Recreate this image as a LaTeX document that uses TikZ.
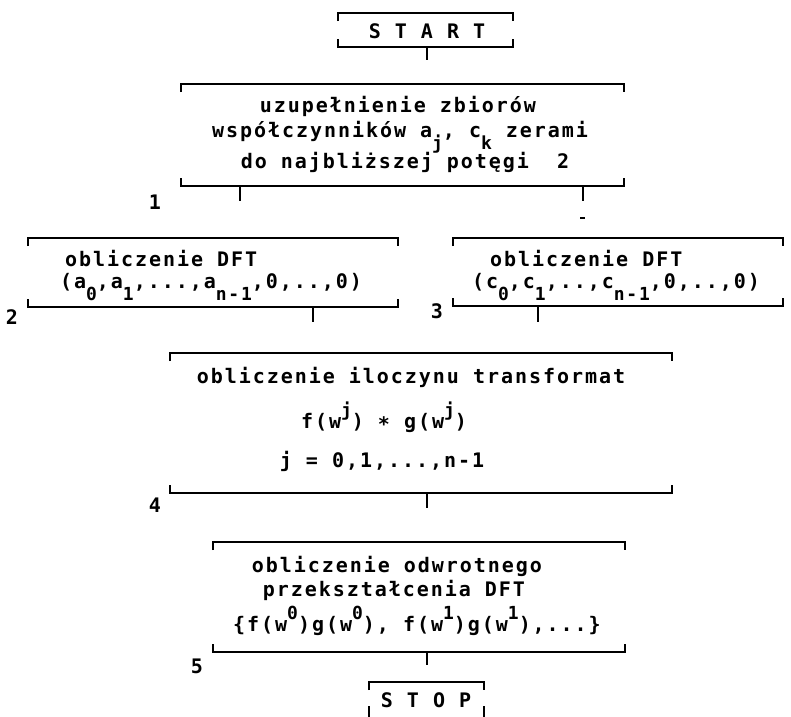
\documentclass[tikz,border=0pt]{standalone}
\usepackage{fontspec}
\setmainfont{DejaVu Sans Mono}[LetterSpace=9.8]
\newcommand\dn[1]{\raisebox{-12pt}{\fontsize{18pt}{20pt}\selectfont #1}}
\newcommand\upx[1]{\raisebox{12pt}{\fontsize{18pt}{20pt}\selectfont #1}}
\newcommand\brkt[1]{%
  \draw[ln] ([yshift=-8pt]#1.north west) -- (#1.north west) -- (#1.north east) -- ([yshift=-8pt]#1.north east);
  \draw[ln] ([yshift=8pt]#1.south west) -- (#1.south west) -- (#1.south east) -- ([yshift=8pt]#1.south east);}
\tikzset{
  boxarea/.style={draw=none, rectangle, inner sep=0pt, outer sep=0pt},
  txt/.style={font=\fontsize{20pt}{24pt}\selectfont\bfseries, inner sep=0pt, anchor=base},
  txtw/.style={txt, anchor=base west},
  ln/.style={line width=1.8pt, line cap=butt, line join=miter},
}
\begin{document}
\begin{tikzpicture}[x=1pt, y=-1pt]
\useasboundingbox (0,0) rectangle (791,716);
\clip (0,0) rectangle (791,716);
% boxes
\node[boxarea, minimum width=175pt, minimum height=34pt] (start) at (425.5,30) {};
\node[boxarea, minimum width=443pt, minimum height=102pt] (b1) at (402.5,135) {};
\node[boxarea, minimum width=370pt, minimum height=69pt] (b2) at (213,272.5) {};
\node[boxarea, minimum width=330pt, minimum height=68pt] (b3) at (618,272) {};
\node[boxarea, minimum width=502pt, minimum height=140pt] (b4) at (421,423) {};
\node[boxarea, minimum width=412pt, minimum height=110pt] (b5) at (419,597) {};
\node[boxarea, minimum width=115pt, minimum height=36pt] (stop) at (426.5,700) {};
\brkt{start}\brkt{b1}\brkt{b2}\brkt{b3}\brkt{b4}\brkt{b5}
\draw[ln] ([yshift=-8pt]stop.north west) -- (stop.north west) -- (stop.north east) -- ([yshift=-8pt]stop.north east);
\draw[ln] ([yshift=12pt]stop.south west) -- (stop.south west) -- (stop.south east) -- ([yshift=12pt]stop.south east);
% texts
\node[txt] (tstart) at (427,38) {S T A R T};
\node[txt] (t1a) at (398,112) {uzupełnienie zbiorów};
\node[txt] (t1b) at (400,137) {współczynników a\dn{j}, c\dn{k} zerami};
\node[txt] (t1c) at (405,168) {do najbliższej potęgi~~2};
\node[txtw] (t2a) at (65,266) {obliczenie DFT};
\node[txt] (t2b) at (211,288) {(a\dn{0},a\dn{1},...,a\dn{n-1},0,..,0)};
\node[txtw] (t3a) at (490,266) {obliczenie DFT};
\node[txt] (t3b) at (616,288) {(c\dn{0},c\dn{1},..,c\dn{n-1},0,..,0)};
\node[txt] (t4a) at (411,383) {obliczenie iloczynu transformat};
\node[txt] (t4b) at (384,428) {f(w\upx{j}) \raisebox{-3pt}{*} g(w\upx{j})};
\node[txt] (t4c) at (382,467) {j = 0,1,...,n-1};
\node[txt] (t5a) at (397,572) {obliczenie odwrotnego};
\node[txt] (t5b) at (394,596) {przekształcenia DFT};
\node[txt] (t5c) at (417,631) {\{f(w\upx{0})g(w\upx{0}), f(w\upx{1})g(w\upx{1}),...\}};
\node[txt] (tstop) at (426,707) {S T O P};
% labels
\node[txt] (l1) at (155,209) {1};
\node[txt] (l2) at (12,324) {2};
\node[txt] (l3) at (437,318) {3};
\node[txt] (l4) at (155,512) {4};
\node[txt] (l5) at (197,673) {5};
% connector stubs
\coordinate (c0) at (427,60);
\coordinate (c1a) at (240,201);
\coordinate (c1b) at (583,201);
\coordinate (c2) at (313,322);
\coordinate (c3) at (538,322);
\coordinate (c4) at (427,508);
\coordinate (c5) at (427,665);
\draw[ln] (start.south -| c0) -- (c0);
\draw[ln] (b1.south -| c1a) -- (c1a);
\draw[ln] (b1.south -| c1b) -- (c1b);
\draw[ln] (b2.south -| c2) -- (c2);
\draw[ln] (b3.south -| c3) -- (c3);
\draw[ln] (b4.south -| c4) -- (c4);
\draw[ln] (b5.south -| c5) -- (c5);
\coordinate (d1) at (580,218);
\coordinate (d2) at (585,218);
\draw[ln] (d1) -- (d2);
\end{tikzpicture}
\end{document}
